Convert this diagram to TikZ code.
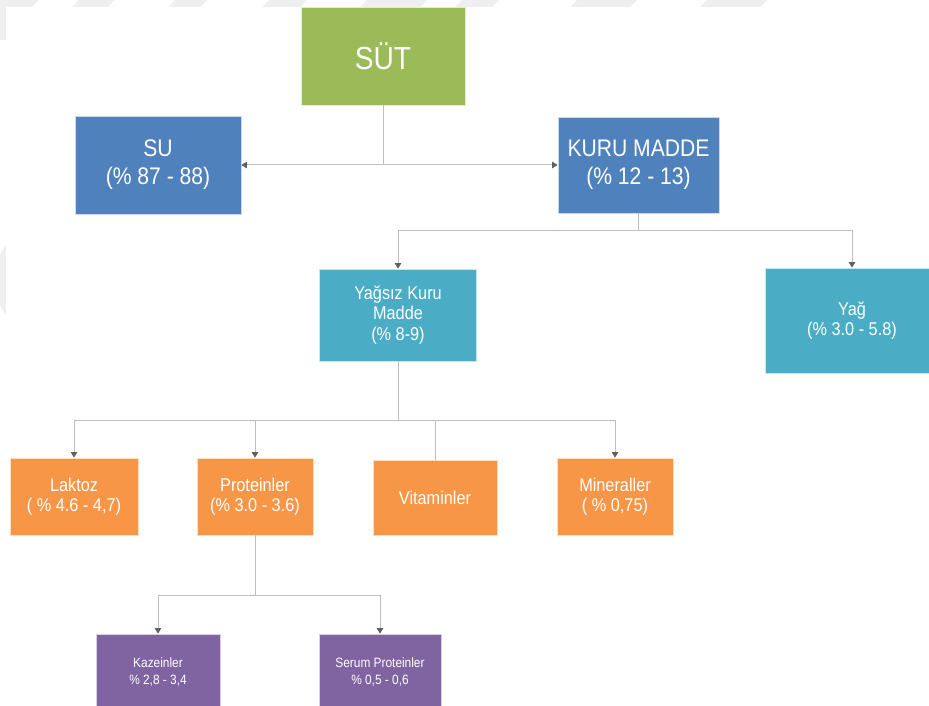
\documentclass[tikz,border=0pt]{standalone}
\usepackage{fontspec}
\setmainfont{Liberation Sans}[FakeStretch=0.88]
\usetikzlibrary{arrows.meta}
\definecolor{cgreen}{HTML}{9BBB59}
\definecolor{cblue}{HTML}{4F81BD}
\definecolor{cteal}{HTML}{4BACC6}
\definecolor{corange}{HTML}{F79646}
\definecolor{cpurple}{HTML}{8064A2}
\definecolor{cline}{HTML}{BEBEBE}
\definecolor{ctip}{HTML}{606060}
\definecolor{cwm}{HTML}{EFEFEF}
\tikzset{
  box/.style={rectangle, draw=white!70!#1, line width=0.8pt, fill=#1, text=white, align=center, inner sep=0pt},
  conn/.style={draw=cline, line width=1pt},
  arr/.style={conn, -{Triangle[width=6.5pt,length=5.5pt,color=ctip]}},
  darr/.style={conn, {Triangle[width=6.5pt,length=5.5pt,color=ctip]}-{Triangle[width=6.5pt,length=5.5pt,color=ctip]}},
  fa/.style={font=\fontsize{32}{36}\selectfont},
  fb/.style={font=\fontsize{24}{28}\selectfont},
  fc/.style={font=\fontsize{18.5}{20.5}\selectfont},
  fd/.style={font=\fontsize{18.5}{19.5}\selectfont},
  fe/.style={font=\fontsize{13.5}{16.5}\selectfont},
}
\begin{document}
\begin{tikzpicture}[x=1pt,y=-1pt]
\useasboundingbox (0,0) rectangle (929,706);
\clip (0,0) rectangle (929,706);
% faint watermark pieces
\fill[white] (0,0) rectangle (929,706);
\foreach \a/\b in {-10/32,72/108,168/200,262/300,360/420,455/492,570/630,700/760}
  \fill[cwm] (\a,7) -- (\a+7,0) -- (\b+7,0) -- (\b,7) -- cycle;
\fill[cwm] (0,0) rectangle (6,40);
\fill[cwm] (0,255) -- (6,245) -- (6,315) -- (0,305) -- cycle;
\fill[white] (6,7) rectangle (929,706);

% nodes
\node[box=cgreen, fa, minimum width=164pt, minimum height=98pt] (sut) at (383,56) {SÜT};
\node[box=cblue, fb, minimum width=166pt, minimum height=98pt] (su) at (158,165) {SU\\(\% 87 - 88)};
\node[box=cblue, fb, minimum width=161pt, minimum height=96pt] (kuru) at (638.5,165) {KURU MADDE\\(\% 12 - 13)};
\node[box=cteal, fc, minimum width=157pt, minimum height=92pt] (yagsiz) at (398,315) {Yağsız Kuru\\Madde\\(\% 8-9)};
\node[box=cteal, fc, minimum width=174pt, minimum height=105pt] (yag) at (852,320.5) {Yağ\\(\% 3.0 - 5.8)};
\node[box=corange, fd, minimum width=128pt, minimum height=77pt] (laktoz) at (74,496.5) {Laktoz\\( \% 4.6 - 4,7)};
\node[box=corange, fd, minimum width=116pt, minimum height=77pt] (prot) at (255,496.5) {Proteinler\\(\% 3.0 - 3.6)};
\node[box=corange, fd, minimum width=124pt, minimum height=75pt] (vit) at (435,497.5) {Vitaminler};
\node[box=corange, fd, minimum width=116pt, minimum height=77pt] (min) at (615,496.5) {Mineraller\\( \% 0,75)};
\node[box=cpurple, fe, minimum width=124pt, minimum height=76pt] (kaz) at (158,672) {Kazeinler\\\% 2,8 - 3,4};
\node[box=cpurple, fe, minimum width=122pt, minimum height=76pt] (serum) at (380,672) {Serum Proteinler\\\% 0,5 - 0,6};

% junction points
\coordinate (j1) at (383,165);
\coordinate (j2) at (638.5,230);
\coordinate (j3) at (398,420);
\coordinate (j4) at (255,595);

% connectors
\draw[conn] (sut) -- (j1);
\draw[darr] (su) -- (kuru);
\draw[conn] (kuru) -- (j2);
\draw[arr] (j2) -| (yagsiz);
\draw[arr] (j2) -| (yag);
\draw[conn] (yagsiz) -- (j3);
\draw[arr] (j3) -| (laktoz);
\draw[arr] (j3) -| (prot);
\draw[conn] (j3) -| (vit);
\draw[arr] (j3) -| (min);
\draw[conn] (prot) -- (j4);
\draw[arr] (j4) -| (kaz);
\draw[arr] (j4) -| (serum);
\end{tikzpicture}
\end{document}
